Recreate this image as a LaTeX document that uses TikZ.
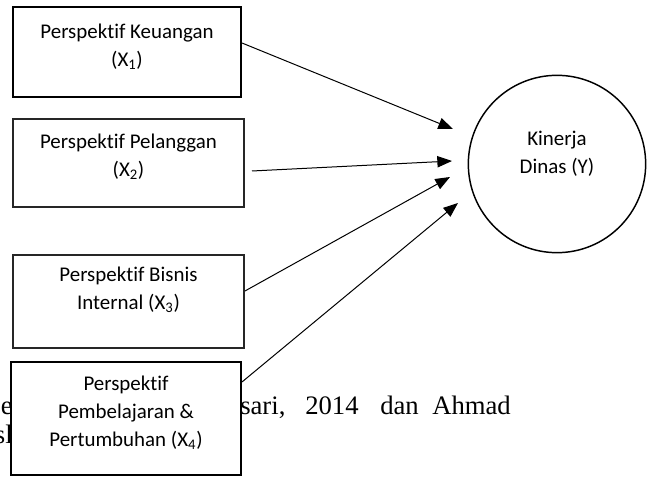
\documentclass[tikz,border=0pt]{standalone}
\usepackage{fontspec}
\setmainfont{Carlito}[Ligatures=NoCommon]
\newfontfamily\bgserif{Liberation Serif}
\usetikzlibrary{positioning,arrows.meta}

\begin{document}
\begin{tikzpicture}[x=0.75pt,y=-0.75pt,
                kotak/.style = {draw, line width=1.5pt, fill=white, inner sep=0pt},
                teks/.style = {align=center, font=\fontsize{15.7}{21}\selectfont},
                latar/.style = {anchor=base west, inner sep=0pt, font=\bgserif\fontsize{20}{22}\selectfont},
                panah/.style = {-{Triangle[length=11pt,width=8.5pt]}, line width=0.75pt}]
            \useasboundingbox (0,0) rectangle (654,477);
            % teks halaman di belakang kotak
            \node[latar, anchor=base east] (p1) at (13,415) {pe};
            \node[latar, anchor=base east] (p2) at (13,444) {sl};
            \foreach \w/\x in {{sari,}/240, 2014/305, dan/380, Ahmad/432}
                \node[latar] at (\x,415) {\w};
            % variabel
            \node[kotak, minimum width=171pt, minimum height=67.5pt,
                  label={[teks,yshift=3.75pt]center:{Perspektif Keuangan\\(X\textsubscript{1})}}] (k1) at (127,52) {};
            \node[kotak, draw=black!85, minimum width=173.25pt, minimum height=66pt,
                  label={[teks,yshift=4.5pt]center:{Perspektif Pelanggan\\(X\textsubscript{2})}}] (k2) at (128.5,163) {};
            \node[kotak, draw=black!85, minimum width=173.25pt, minimum height=69.75pt,
                  label={[teks,yshift=8.6pt]center:{Perspektif Bisnis\\Internal (X\textsubscript{3})}}] (k3) at (128.5,301.5) {};
            \node[kotak, minimum width=172.5pt, minimum height=84.75pt,
                  label={[teks,yshift=4pt]center:{Perspektif\\Pembelajaran \&\\Pertumbuhan (X\textsubscript{4})}}] (k4) at (126,418.5) {};
            \node[draw, circle, line width=1.1pt, minimum size=133pt, inner sep=0pt,
                  label={[teks,yshift=7.5pt]center:{Kinerja\\Dinas (Y)}}] (kd) at (557,164) {};
            % ujung panah
            \coordinate (e1) at (453,129);
            \coordinate (e2) at (452,161);
            \coordinate (e3) at (450,177);
            \coordinate (e4) at (458,203);
            \draw[panah] ([yshift=6.75pt]k1.east) -- (e1);
            \draw[panah] ([xshift=5.25pt,yshift=-6pt]k2.east) -- (e2);
            \draw[panah] ([yshift=7.9pt]k3.east) -- (e3);
            \draw[panah] ([yshift=27.4pt]k4.east) -- (e4);
\end{tikzpicture}
\end{document}
